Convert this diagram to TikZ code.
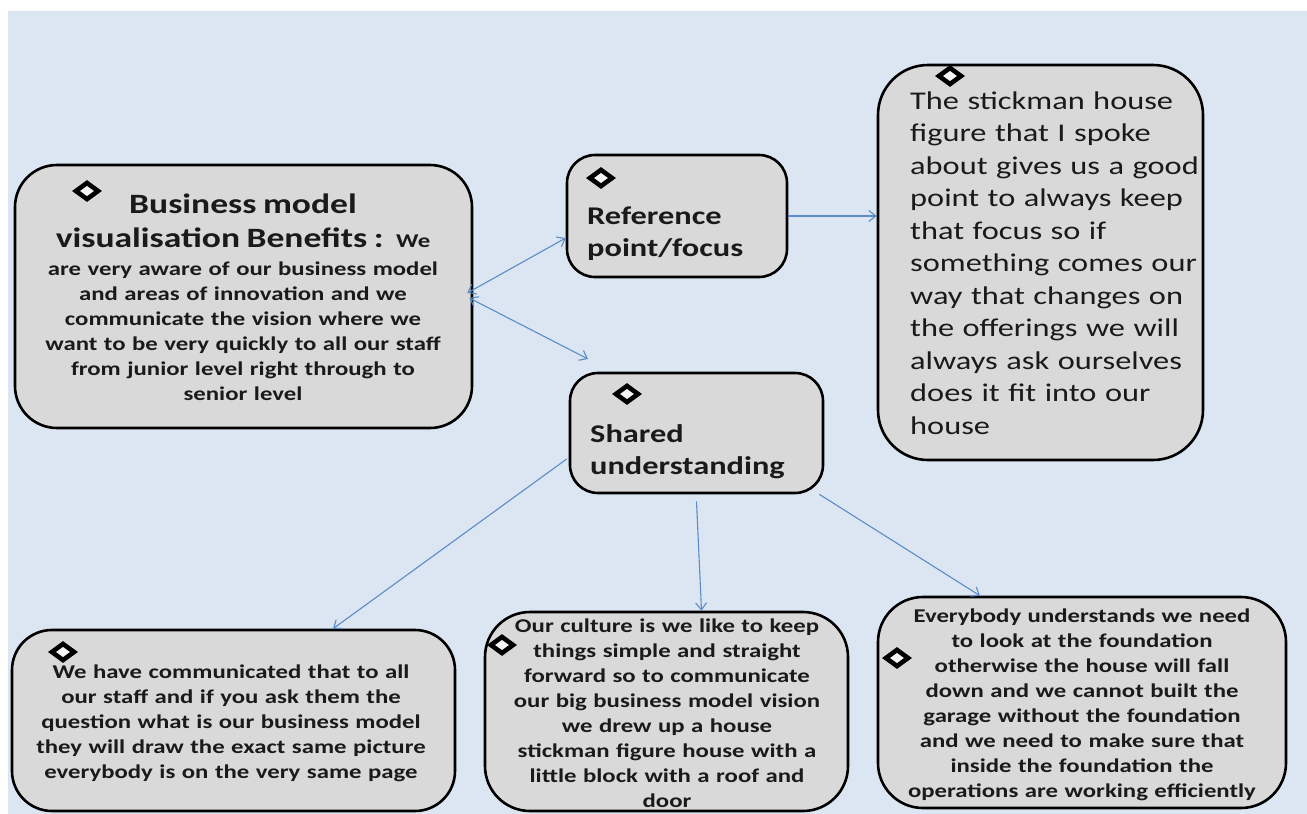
\documentclass[tikz,border=0pt]{standalone}
\usepackage{fontspec}
\setmainfont{Carlito}[FakeStretch=1.27]
\usetikzlibrary{arrows.meta,shapes.geometric}
\definecolor{bgblue}{HTML}{DCE6F2}
\definecolor{boxgrey}{HTML}{D9D9D9}
\definecolor{linkblue}{HTML}{5B8BC8}
\definecolor{ink}{HTML}{1A1A1A}

\begin{document}
\begin{tikzpicture}[x=1pt,y=-1pt,
  box/.style={draw=black, line width=2.6pt, fill=boxgrey, inner sep=0pt, rectangle},
  gem/.style={diamond, draw=black, line width=4.6pt, fill=white!75!boxgrey, inner sep=0pt,
    minimum width=24pt, minimum height=18pt},
  link/.style={draw=linkblue, line width=1.1pt, -{Straight Barb[length=7pt,width=11pt]}},
  both/.style={link, {Straight Barb[length=7pt,width=11pt]}-{Straight Barb[length=7pt,width=11pt]}},
  txt/.style={text=ink, inner sep=0pt},
  small/.style={font=\fontsize{19.5pt}{25pt}\selectfont\bfseries},
  head/.style={font=\fontsize{25.5pt}{32pt}\selectfont\bfseries},
  plain/.style={font=\fontsize{25.5pt}{32.5pt}\selectfont},
]
\useasboundingbox (0,0) rectangle (1307,814);
\fill[white] (0,0) rectangle (1307,814);
\fill[bgblue] (8,11) rectangle (1307,814);

% boxes
\node[box, rounded corners=42pt, minimum width=457pt, minimum height=263pt] (A) at (243.5,296.5) {};
\node[box, rounded corners=28pt, minimum width=220pt, minimum height=122pt] (B) at (677,216) {};
\node[box, rounded corners=50pt, minimum width=325pt, minimum height=395pt] (C) at (1040.5,262.5) {};
\node[box, rounded corners=28pt, minimum width=253pt, minimum height=120pt] (D) at (696.5,433) {};
\node[box, rounded corners=40pt, minimum width=443pt, minimum height=181pt] (E) at (233.5,720.5) {};
\node[box, rounded corners=45pt, minimum width=363pt, minimum height=199pt] (F) at (666.5,711.5) {};
\node[box, rounded corners=45pt, minimum width=408pt, minimum height=211pt] (G) at (1082,702.5) {};

% diamond bullets
\node[gem] (gA) at (87,191) {};
\node[gem] (gB) at (601,178) {};
\node[gem] (gC) at (950,76) {};
\node[gem] (gD) at (627,394) {};
\node[gem] (gE) at (63,652) {};
\node[gem] (gF) at (502,645) {};
\node[gem] (gG) at (897,658) {};

% texts
\node[txt, small, anchor=base, text width=440pt, align=center] (tA) at (243,213) {%
\fontsize{28pt}{34pt}\selectfont Business model\\
visualisation Benefits :\hspace{0.45em}{\fontsize{19.5pt}{34pt}\selectfont We}\\
\fontsize{19.5pt}{28pt}\selectfont are very aware of our business model\\
\fontsize{19.5pt}{25pt}\selectfont and areas of innovation and we\\
communicate the vision where we\\
want to be very quickly to all our staff\\
from junior level right through to\\
senior level};

\node[txt, head, anchor=base west, text width=200pt, align=left] (tB) at (587,224) {%
Reference\\ point/focus};

\node[txt, head, anchor=base west, text width=220pt, align=left] (tD) at (590,442) {%
Shared\\ understanding};

\node[txt, plain, anchor=base west, text width=300pt, align=left] (tC) at (910,109) {%
The stickman house\\
figure that I spoke\\
about gives us a good\\
point to always keep\\
that focus so if\\
something comes our\\
way that changes on\\
the offerings we will\\
always ask ourselves\\
does it fit into our\\
house};

\node[txt, small, anchor=base, text width=430pt, align=center] (tE) at (231,678) {%
We have communicated that to all\\
our staff and if you ask them the\\
question what is our business model\\
they will draw the exact same picture\\
everybody is on the very same page};

\node[txt, small, anchor=base, text width=350pt, align=center] (tF) at (667,632) {%
Our culture is we like to keep\\
things simple and straight\\
forward so to communicate\\
our big business model vision\\
we drew up a house\\
stickman figure house with a\\
little block with a roof and\\
door};

\node[txt, small, anchor=base, text width=400pt, align=center] (tG) at (1082,622) {%
Everybody understands we need\\
to look at the foundation\\
otherwise the house will fall\\
down and we cannot built the\\
garage without the foundation\\
and we need to make sure that\\
inside the foundation the\\
operations are working efficiently};

% connectors
\coordinate (dEnd) at (588,359);
\draw[both] ([xshift=-6pt,yshift=3.5pt]A.east) -- ([yshift=-22pt]B.west);
\draw[both] ([xshift=-4pt,yshift=-1.5pt]A.east) -- (dEnd);
\draw[link] (B.east) -- (B.east -| C.west);
\draw[link] ([xshift=-2pt,yshift=-26pt]D.west) -- ([xshift=99.5pt]E.north);
\draw[link] ([yshift=-7pt]D.south) -- ([xshift=35pt]F.north);
\draw[link] ([xshift=-5pt]D.south east) -- ([xshift=-102pt]G.north);
\end{tikzpicture}
\end{document}
